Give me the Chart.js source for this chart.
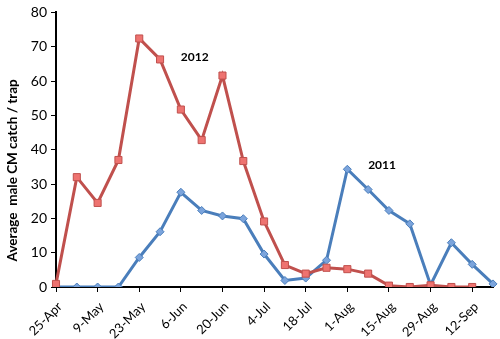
<!DOCTYPE html>
<html>
<head>
<meta charset="utf-8">
<script src="https://cdn.jsdelivr.net/npm/chart.js@4/dist/chart.umd.min.js"></script>
<style>
  html, body { margin: 0; padding: 0; background: #fff; }
  #wrap { width: 500px; height: 339px; position: relative; }
</style>
</head>
<body>
<div id="wrap"><canvas id="catchChart"></canvas></div>
<script>
// weekly trap check dates
const weeks = ['25-Apr', '2-May', '9-May', '16-May', '23-May', '30-May', '6-Jun', '13-Jun',
    '20-Jun', '27-Jun', '4-Jul', '11-Jul', '18-Jul', '25-Jul', '1-Aug', '8-Aug',
    '15-Aug', '22-Aug', '29-Aug', '5-Sep', '12-Sep', '19-Sep'];

// average male codling moth catch per trap
const catch2011 = [0, 0, 0, 0, 8.6, 16.1, 27.6, 22.3, 20.7, 19.9, 9.6, 1.9, 2.6, 7.8,
    34.3, 28.4, 22.3, 18.4, 0.6, 12.9, 6.6, 0.9];
const catch2012 = [0.9, 32, 24.5, 37, 72.4, 66.3, 51.7, 42.8, 61.6, 36.7, 19.1, 6.4,
    3.9, 5.6, 5.2, 3.9, 0.4, 0, 0.5, 0, 0, null];

const yTicks = [0, 10, 20, 30, 40, 50, 60, 70, 80];
const yTitle = 'Average  male CM catch / trap';

// year labels placed next to each curve
const yearLabels = [
    { text: '2012', week: '6-Jun', value: 67 },
    { text: '2011', week: '8-Aug', value: 35.5 }
];

const FONT = 'Lato, "Liberation Sans", sans-serif';

const yearLabelPlugin = {
    id: 'yearLabels',
    afterDatasetsDraw(chart) {
        const ctx = chart.ctx;
        const xs = chart.scales.x, ys = chart.scales.y;
        ctx.save();
        ctx.font = 'bold 12px ' + FONT;
        ctx.fillStyle = '#000';
        ctx.textAlign = 'left';
        ctx.textBaseline = 'middle';
        yearLabels.forEach(l => {
            ctx.fillText(l.text, xs.getPixelForValue(weeks.indexOf(l.week)), ys.getPixelForValue(l.value));
        });
        // y axis title, sitting a little below the middle of the axis
        ctx.translate(13, ys.getPixelForValue(34));
        ctx.rotate(-Math.PI / 2);
        ctx.textAlign = 'center';
        ctx.font = 'bold 13.5px ' + FONT;
        ctx.fillText(yTitle, 0, 0);
        ctx.restore();
    }
};

const ctx = document.getElementById('catchChart').getContext('2d');
new Chart(ctx, {
    type: 'line',
    data: {
        labels: weeks,
        datasets: [{
            label: '2012',
            data: catch2012,
            borderColor: '#C0504D',
            backgroundColor: '#EE7370',
            pointBorderColor: '#C0504D',
            pointBorderWidth: 1,
            pointStyle: 'rect',
            pointRadius: 5,
            borderWidth: 3,
            tension: 0
        }, {
            label: '2011',
            data: catch2011,
            borderColor: '#4A7EBB',
            backgroundColor: '#7BA4DC',
            pointBorderColor: '#4A7EBB',
            pointBorderWidth: 1,
            pointStyle: 'rectRot',
            pointRadius: 4,
            borderWidth: 3,
            tension: 0
        }]
    },
    options: {
        responsive: true,
        maintainAspectRatio: false,
        animation: false,
        layout: { padding: { top: 7, right: 7, left: 0, bottom: 0 } },
        plugins: {
            legend: { display: false },
            tooltip: { enabled: false }
        },
        scales: {
            x: {
                offset: false,
                border: { color: '#000', width: 2 },
                grid: {
                    drawOnChartArea: false,
                    drawTicks: true,
                    tickLength: 5,
                    color: '#000'
                },
                ticks: {
                    autoSkip: false,
                    maxRotation: 45,
                    minRotation: 45,
                    color: '#000',
                    padding: 7,
                    labelOffset: 4,
                    font: { family: FONT, size: 13 },
                    callback: (v, i) => (i % 2 === 0 ? weeks[i] : null)
                },
                afterFit: s => { s.height = 52; }
            },
            y: {
                min: 0,
                max: 80,
                border: { color: '#000', width: 2 },
                grid: {
                    drawOnChartArea: false,
                    tickLength: 5,
                    color: '#000'
                },
                afterBuildTicks: s => { s.ticks = yTicks.map(v => ({ value: v })); },
                ticks: {
                    color: '#000',
                    padding: 4,
                    font: { family: FONT, size: 14 }
                },
                afterFit: s => { s.width = 56; }
            }
        }
    },
    plugins: [yearLabelPlugin]
});
</script>
</body>
</html>
